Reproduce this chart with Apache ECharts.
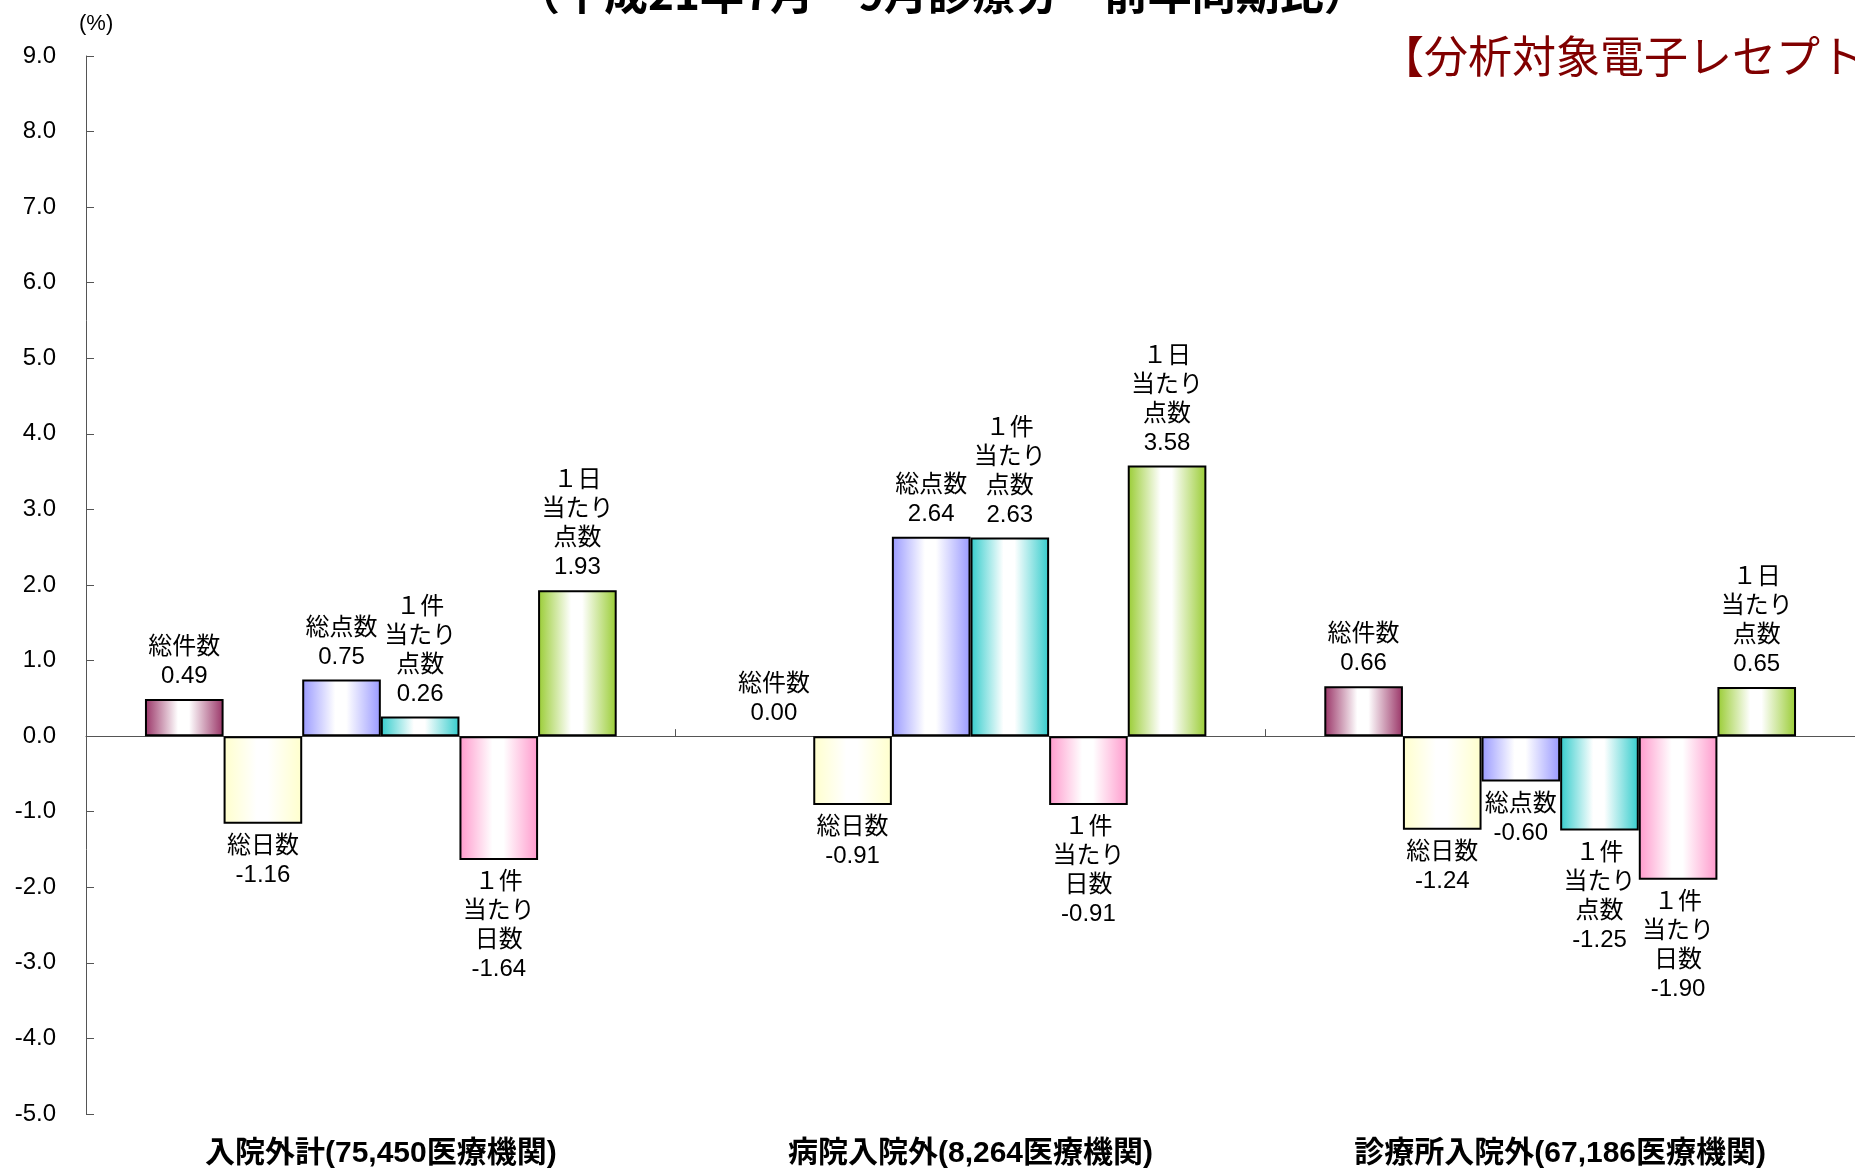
<!DOCTYPE html>
<html>
<head>
<meta charset="utf-8">
<title>前年同期比</title>
<script src="https://cdn.jsdelivr.net/npm/echarts@6/dist/echarts.min.js"></script>
<style>
  html, body { margin: 0; padding: 0; background: #fff; }
  #main { width: 1855px; height: 1174px; }
</style>
</head>
<body>
<div id="main"></div>
<script>
// カテゴリ（横軸）
const categories = ['入院外計(75,450医療機関)', '病院入院外(8,264医療機関)', '診療所入院外(67,186医療機関)']
const seriesNames = ['総件数', '総日数', '総点数', '1件当たり点数', '1件当たり日数', '1日当たり点数']
// バー上のラベル（改行入り）
const labelNames = ['総件数', '総日数', '総点数', '１件\n当たり\n点数', '１件\n当たり\n日数', '１日\n当たり\n点数']

// 前年同期比（%）
const sokensu = [0.49, 0.00, 0.66]
const sonissu = [-1.16, -0.91, -1.24]
const sotensu = [0.75, 2.64, -0.60]
const tensuPerKen = [0.26, 2.63, -1.25]
const nissuPerKen = [-1.64, -0.91, -1.90]
const tensuPerDay = [1.93, 3.58, 0.65]

// 縦軸
const yMin = -5
const yMax = 9
const yStep = 1

const seriesValues = [sokensu, sonissu, sotensu, tensuPerKen, nissuPerKen, tensuPerDay]
const barColors = ['#993366', '#ffffcc', '#9999ff', '#33cccc', '#ff99cc', '#99cc33']

const textFont = "'Liberation Sans', 'Noto Sans CJK JP', sans-serif"

function barGradient(c) {
  return new echarts.graphic.LinearGradient(0, 0, 1, 0, [
    { offset: 0, color: c },
    { offset: 0.42, color: '#ffffff' },
    { offset: 0.56, color: '#ffffff' },
    { offset: 1, color: c }
  ])
}

function buildSeries(values, i) {
  return {
    name: seriesNames[i],
    type: 'bar',
    xAxisIndex: 0,
    barGap: 0,
    barCategoryGap: '20%',
    itemStyle: {
      color: barGradient(barColors[i]),
      borderColor: '#000',
      borderWidth: 2
    },
    label: {
      show: true,
      distance: 8,
      color: '#000',
      fontSize: 24,
      lineHeight: 29,
      fontFamily: textFont,
      formatter: p => labelNames[p.seriesIndex] + '\n' + p.value.toFixed(2)
    },
    data: values.map(v => ({
      value: v,
      //0のときは枠線を描かない
      itemStyle: v === 0 ? { borderWidth: 0 } : undefined,
      label: { position: v < 0 ? 'bottom' : 'top' }
    }))
  }
}

const chart = echarts.init(document.getElementById('main'), null, { renderer: 'canvas' })

chart.setOption({
  backgroundColor: '#fff',
  animation: false,
  grid: { left: 86, right: -4, top: 56, bottom: 60, containLabel: false },
  xAxis: [
    {
      // 下のカテゴリ名
      type: 'category',
      data: categories,
      position: 'bottom',
      axisLine: { show: false, onZero: false },
      axisTick: { show: false },
      axisLabel: {
        margin: 25,
        color: '#000',
        fontSize: 30,
        fontWeight: 'bold',
        fontFamily: textFont
      }
    },
    {
      // 0の線
      type: 'category',
      data: categories,
      position: 'bottom',
      axisLine: { show: true, onZero: true, lineStyle: { color: '#555', width: 1 } },
      axisTick: { show: true, inside: true, length: 7, lineStyle: { color: '#555' } },
      axisLabel: { show: false }
    }
  ],
  yAxis: {
    type: 'value',
    min: yMin,
    max: yMax,
    interval: yStep,
    splitLine: { show: false },
    axisLine: { show: true, lineStyle: { color: '#555', width: 1 } },
    axisTick: { show: true, inside: true, length: 8, lineStyle: { color: '#555' } },
    axisLabel: {
      margin: 30,
      color: '#000',
      fontSize: 24,
      fontFamily: textFont,
      formatter: v => v.toFixed(1)
    }
  },
  graphic: [
    {
      type: 'text',
      x: 516,
      y: -29,
      style: {
        text: '（平成21年7月～9月診療分　前年同期比）',
        font: "bold 44px 'Noto Sans CJK JP', sans-serif",
        fill: '#000'
      }
    },
    {
      type: 'text',
      x: 1380,
      y: 34,
      style: {
        text: '【分析対象電子レセプト件数】',
        font: "44px 'Noto Sans CJK JP', sans-serif",
        fill: '#800000'
      }
    },
    {
      type: 'text',
      x: 79,
      y: 13,
      style: {
        text: '(%)',
        font: "22px 'Liberation Sans', sans-serif",
        fill: '#000'
      }
    }
  ],
  series: seriesValues.map(buildSeries)
})
</script>
</body>
</html>
